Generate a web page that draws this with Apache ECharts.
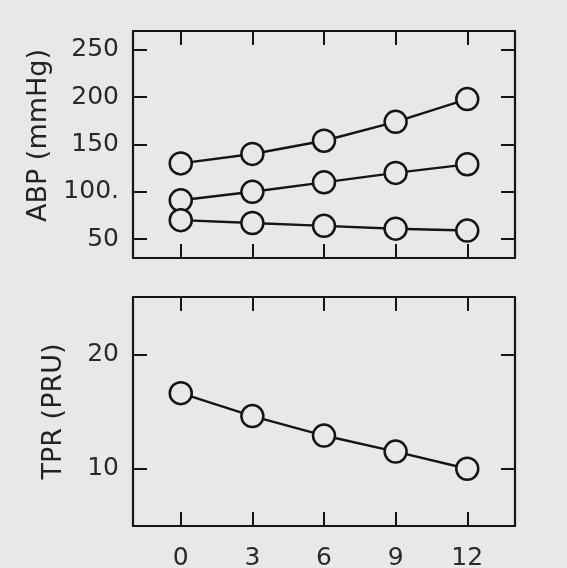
<!DOCTYPE html>
<html>
<head>
<meta charset="utf-8">
<script src="https://cdn.jsdelivr.net/npm/echarts@6/dist/echarts.min.js"></script>
<style>
  html, body { margin: 0; padding: 0; background: #e8e8e8; }
  #chart { width: 567px; height: 568px; }
</style>
</head>
<body>
<div id="chart"></div>
<script>
// Data
const hours = [0, 3, 6, 9, 12];
const abpHigh = [130, 140, 154, 174, 198];
const abpMid = [91, 100, 110, 120, 129];
const abpLow = [70, 67, 64, 61, 59];
const tpr = [16.6, 14.6, 12.9, 11.5, 10.0];

const abpTicks = [50, 100, 150, 200, 250];
const abpTickLabels = ['50', '100.', '150', '200', '250'];
const tprTicks = [10, 20];
const tprTickLabels = ['10', '20'];
const hourTickLabels = ['0', '3', '6', '9', '12'];

const INK = '#151515';
const BG = '#e8e8e8';
const FONT = 'DejaVu Sans';

function pairs(xs, ys) { return xs.map((x, i) => [x, ys[i]]); }

function xAx(gridIndex, position, showLabels) {
  return {
    type: 'value', gridIndex, position, min: -2, max: 14,
    splitLine: { show: false },
    axisLine: { show: true, onZero: false, lineStyle: { color: INK, width: 2.2 } },
    axisTick: { show: true, inside: true, length: 14, customValues: hours, lineStyle: { color: INK, width: 2 } },
    axisLabel: {
      show: showLabels, customValues: hours, margin: 20,
      color: '#2a2a2a', fontFamily: FONT, fontSize: 25,
      formatter: v => hourTickLabels[hours.indexOf(v)] ?? ''
    }
  };
}

function yAx(gridIndex, position, min, max, ticks, labels, name, nameGap, pad) {
  const show = position === 'left';
  return {
    type: 'value', gridIndex, position, min, max,
    splitLine: { show: false },
    axisLine: { show: true, onZero: false, lineStyle: { color: INK, width: 2.2 } },
    axisTick: { show: true, inside: true, length: 14, customValues: ticks, lineStyle: { color: INK, width: 2 } },
    axisLabel: {
      show, customValues: ticks, margin: 14,
      color: '#2a2a2a', fontFamily: FONT, fontSize: 25,
      formatter: v => labels[ticks.indexOf(v)] ?? ''
    },
    name: show ? name : '',
    nameLocation: 'middle', nameGap,
    nameRotate: 90,
    nameTextStyle: { color: '#222', fontFamily: FONT, fontSize: 27, padding: pad }
  };
}

function lineSeries(xi, yi, ys) {
  return {
    type: 'line', xAxisIndex: xi, yAxisIndex: yi,
    data: pairs(hours, ys),
    symbol: 'circle', symbolSize: 22, showSymbol: true,
    lineStyle: { color: INK, width: 2.4 },
    itemStyle: { color: BG, borderColor: INK, borderWidth: 2.5 },
    emphasis: { disabled: true },
    z: 3
  };
}

const chart = echarts.init(document.getElementById('chart'), null, { renderer: 'canvas' });
chart.setOption({
  backgroundColor: BG,
  animation: false,
  grid: [
    { left: 133, right: 52, top: 31, height: 227, containLabel: false, outerBoundsMode: 'none' },
    { left: 133, right: 52, top: 297, height: 229, containLabel: false, outerBoundsMode: 'none' }
  ],
  xAxis: [
    xAx(0, 'bottom', false),
    xAx(0, 'top', false),
    xAx(1, 'bottom', true),
    xAx(1, 'top', false)
  ],
  yAxis: [
    yAx(0, 'left', 30, 270, abpTicks, abpTickLabels, 'ABP (mmHg)', 72, [0, 0, 0, 18]),
    yAx(0, 'right', 30, 270, abpTicks, abpTickLabels, '', 0, 0),
    yAx(1, 'left', 5, 25, tprTicks, tprTickLabels, 'TPR (PRU)', 66, 0),
    yAx(1, 'right', 5, 25, tprTicks, tprTickLabels, '', 0, 0)
  ],
  series: [
    lineSeries(0, 0, abpHigh),
    lineSeries(0, 0, abpMid),
    lineSeries(0, 0, abpLow),
    lineSeries(2, 2, tpr)
  ]
});
</script>
</body>
</html>
